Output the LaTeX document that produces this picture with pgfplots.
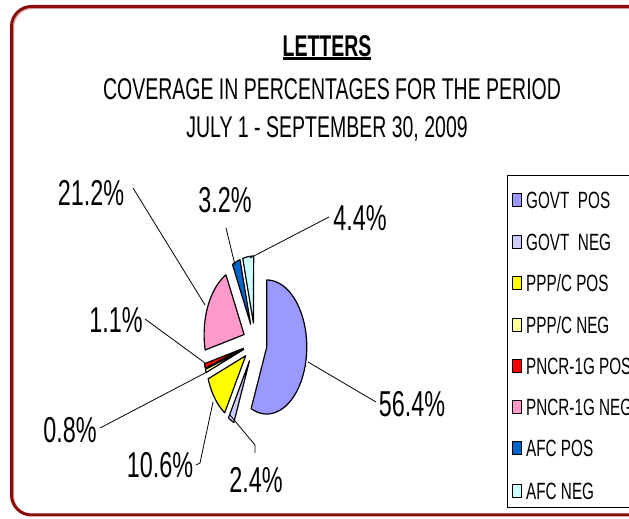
\documentclass[border=0pt]{standalone}
\usepackage{pgfplots}
\pgfplotsset{compat=1.18}
\usepackage{fontspec}
\setmainfont{Liberation Sans}[FakeStretch=0.65]
\definecolor{govtpos}{HTML}{9999FF}
\definecolor{govtneg}{HTML}{CCCCFF}
\definecolor{pppcpos}{HTML}{FFFF00}
\definecolor{pppcneg}{HTML}{FFFF99}
\definecolor{pncrpos}{HTML}{FF0000}
\definecolor{pncrneg}{HTML}{FF99CC}
\definecolor{afcpos}{HTML}{0066CC}
\definecolor{afcneg}{HTML}{CCFFFF}
\definecolor{frame}{HTML}{8B0A0A}
\newcommand\cum{0}
\newcommand\pieslice[2]{%
 \pgfmathsetmacro\sA{90-3.6*\cum}%
 \pgfmathsetmacro\cumN{\cum+#1}%
 \pgfmathsetmacro\sB{90-3.6*\cumN}%
 \pgfmathsetmacro\sMid{(\sA+\sB)/2}%
 \pgfmathsetmacro\ex{0.3*cos(\sMid)}%
 \pgfmathsetmacro\ey{0.3*sin(\sMid)}%
 \pgfmathsetmacro\sC{\sB+(\sA-\sB)/80}%
 \xdef\cum{\cumN}%
 \edef\doslice{\noexpand\addplot[fill=#2, draw=black, line width=1.2pt, line join=round, samples at={-1000,\sB,\sC,...,\sA,\sA}] ({\ex+ifthenelse(x<(-900),0,cos(x))},{\ey+ifthenelse(x<(-900),0,sin(x))}) -- cycle;}%
 \doslice
}
\begin{document}
\begin{tikzpicture}[x=1pt,y=1pt]
\useasboundingbox (0,0) rectangle (629,519);
\clip (0,0) rectangle (629,519);
\fill[white] (0,0) rectangle (629,519);
\draw[frame!40, line width=1pt, rounded corners=19pt] (13.5,4) rectangle (720,510.5);
\draw[frame, line width=3pt, rounded corners=20pt] (11.5,4) rectangle (720,512.5);
% titles
\node[font=\bfseries\fontsize{30}{34}\selectfont, inner sep=0pt] at (327,473) {LETTERS};
\draw[line width=3pt] (283,460) -- (371,460);
\node[font=\fontsize{30}{34}\selectfont, inner sep=0pt] at (332,430) {COVERAGE IN PERCENTAGES FOR THE PERIOD};
\node[font=\fontsize{30}{34}\selectfont, inner sep=0pt] at (327,390) {JULY 1 - SEPTEMBER 30, 2009};
% pie
\begin{axis}[at={(255pt,176pt)}, anchor=origin, scale only axis, width=160pt, height=268pt,
  xmin=-2, xmax=2, ymin=-2, ymax=2, hide axis, clip=false]
\pieslice{56.4}{govtpos}
\pieslice{2.4}{govtneg}
\pieslice{10.6}{pppcpos}
\pieslice{0.8}{pppcneg}
\pieslice{1.1}{pncrpos}
\pieslice{21.2}{pncrneg}
\pieslice{3.2}{afcpos}
\pieslice{4.4}{afcneg}
\end{axis}
% leader lines
\begin{scope}[line width=0.8pt]
\draw (133,331) -- (205,214);
\draw (226,291) -- (235,254);
\draw (329,302) -- (250,261);
\draw (145,200) -- (205,156);
\draw (100,91) -- (207,147);
\draw (196,54) -- (200,56) -- (213,117);
\draw (230,104) -- (255,74) -- (255,66);
\draw (308,157) -- (376,117);
\end{scope}
% labels
\begin{scope}[every node/.style={font=\fontsize{36}{40}\selectfont, inner sep=0pt}]
\node at (91,326) {21.2\%};
\node at (225,319) {3.2\%};
\node at (360,301) {4.4\%};
\node at (116,199) {1.1\%};
\node at (70,89) {0.8\%};
\node at (160,54) {10.6\%};
\node at (256,39) {2.4\%};
\node at (412,115) {56.4\%};
\end{scope}
% legend
\draw[line width=1pt] (507,343) rectangle (720,11);
\begin{scope}[every node/.style={font=\fontsize{23.5}{26}\selectfont, inner sep=0pt, anchor=west}]
\foreach \y/\c/\t in {319/govtpos/{GOVT\ \ POS}, 277/govtneg/{GOVT\ \ NEG}, 236/pppcpos/{PPP/C POS}, 194/pppcneg/{PPP/C NEG}, 153/pncrpos/{PNCR-1G POS}, 112/pncrneg/{PNCR-1G NEG}, 71/afcpos/{AFC POS}, 28/afcneg/{AFC NEG}}{
  \draw[fill=\c, line width=0.8pt] (512.5,\y-6.5) rectangle (521,\y+6.5);
  \node at (526,\y) {\t};
}
\end{scope}
\end{tikzpicture}
\end{document}
